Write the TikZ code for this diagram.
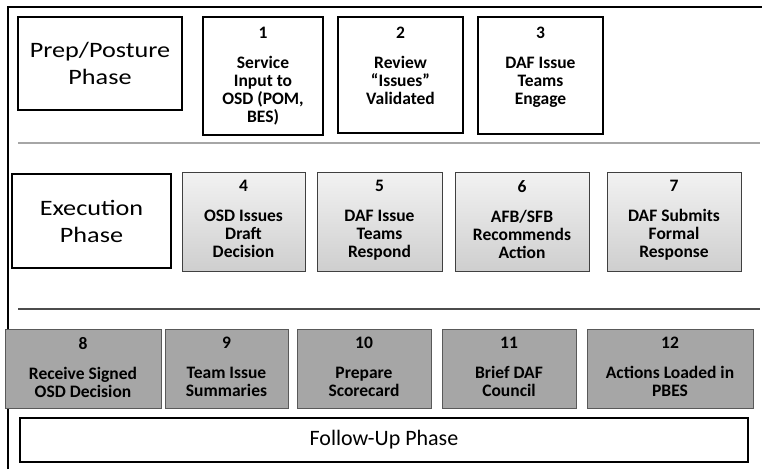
\documentclass[tikz,border=0pt]{standalone}
\usepackage{fontspec}
\setmainfont{Carlito}
\newfontfamily\widefont[FakeStretch=1.19]{Carlito}
\usepackage{tikz}
\usetikzlibrary{shapes,positioning,shadows}

\begin{document}
\begin{tikzpicture}
  [
    x=1pt, y=-1pt,
    Phase/.style={rectangle, draw=black, line width=1.6pt, fill=white, inner sep=0pt, outer sep=0pt, align=center, drop shadow={shadow xshift=1.2pt, shadow yshift=-1.2pt, fill=black!70, opacity=1}, font=\widefont\fontsize{22}{27}\selectfont},
    Plain/.style={rectangle, draw=black, line width=1.1pt, fill=white, inner sep=0pt, outer sep=0pt},
    Light/.style={rectangle, draw=black!75, line width=0.8pt, top color=gray!10, bottom color=gray!38, inner sep=0pt, outer sep=0pt, drop shadow={shadow xshift=0.8pt, shadow yshift=-1pt, fill=black!45, opacity=1}},
    Dark/.style={rectangle, draw=black!65, line width=0.8pt, fill=black!35, inner sep=0pt, outer sep=0pt},
    Text/.style={anchor=north, yshift=-8pt, inner sep=0pt, align=center, font=\fontsize{17.5}{18}\selectfont\bfseries}
  ]
  \useasboundingbox (0,0) rectangle (762,469);
  % Frame and separators
  \draw[line width=1.6pt] (8,469) -- (8,7) -- (762,7);
  \draw[gray!70, line width=1.3pt] (18,143) -- (760,143);
  \draw[black!70, line width=2.2pt] (18,309) -- (760,309);
  % Prep/Posture phase
  \node[Phase, minimum width=164pt, minimum height=93pt] (prep) at(100, 63.5) {Prep/Posture\\Phase};
  \node[Plain, minimum width=120pt, minimum height=118pt, label={[Text, yshift=-1.5pt]north:1\\[12pt]Service\\Input to\\OSD (POM,\\BES)}] (s1) at(263, 76) {};
  \node[Plain, minimum width=125pt, minimum height=116pt, label={[Text, yshift=-1.5pt]north:2\\[12pt]Review\\“Issues”\\Validated}] (s2) at(400.5, 75) {};
  \node[Plain, minimum width=125pt, minimum height=117pt, label={[Text, yshift=-1.5pt]north:3\\[12pt]DAF Issue\\Teams\\Engage}] (s3) at(540.5, 75.5) {};
  % Execution phase
  \node[Phase, minimum width=159pt, minimum height=94pt] (exec) at(91.5, 221) {Execution\\Phase};
  \node[Light, minimum width=123pt, minimum height=99pt, label={[Text]north:4\\[12pt]OSD Issues\\Draft\\Decision}] (s4) at(243.5, 221.5) {};
  \node[Light, minimum width=125pt, minimum height=99pt, label={[Text]north:5\\[12pt]DAF Issue\\Teams\\Respond}] (s5) at(379.5, 221.5) {};
  \node[Light, minimum width=134pt, minimum height=99pt, label={[Text]north:6\\[12pt]AFB/SFB\\Recommends\\Action}] (s6) at(522, 221.5) {};
  \node[Light, minimum width=134pt, minimum height=99pt, label={[Text]north:7\\[12pt]DAF Submits\\Formal\\Response}] (s7) at(674, 221.5) {};
  % Follow-up phase
  \node[Dark, minimum width=156pt, minimum height=79pt, label={[Text]north:8\\[12pt]Receive Signed\\OSD Decision}] (s8) at(83, 368.5) {};
  \node[Dark, minimum width=123pt, minimum height=79pt, label={[Text]north:9\\[12pt]Team Issue\\Summaries}] (s9) at(226.5, 368.5) {};
  \node[Dark, minimum width=134pt, minimum height=79pt, label={[Text]north:10\\[12pt]Prepare\\Scorecard}] (s10) at(364, 368.5) {};
  \node[Dark, minimum width=134pt, minimum height=79pt, label={[Text]north:11\\[12pt]Brief DAF\\Council}] (s11) at(509, 368.5) {};
  \node[Dark, minimum width=166pt, minimum height=79pt, label={[Text]north:12\\[12pt]Actions Loaded in\\PBES}] (s12) at(670, 368.5) {};
  \node[Phase, minimum width=728pt, minimum height=44pt, font=\fontsize{22}{27}\selectfont] (follow) at(384, 440) {Follow-Up Phase};
\end{tikzpicture}
\end{document}
